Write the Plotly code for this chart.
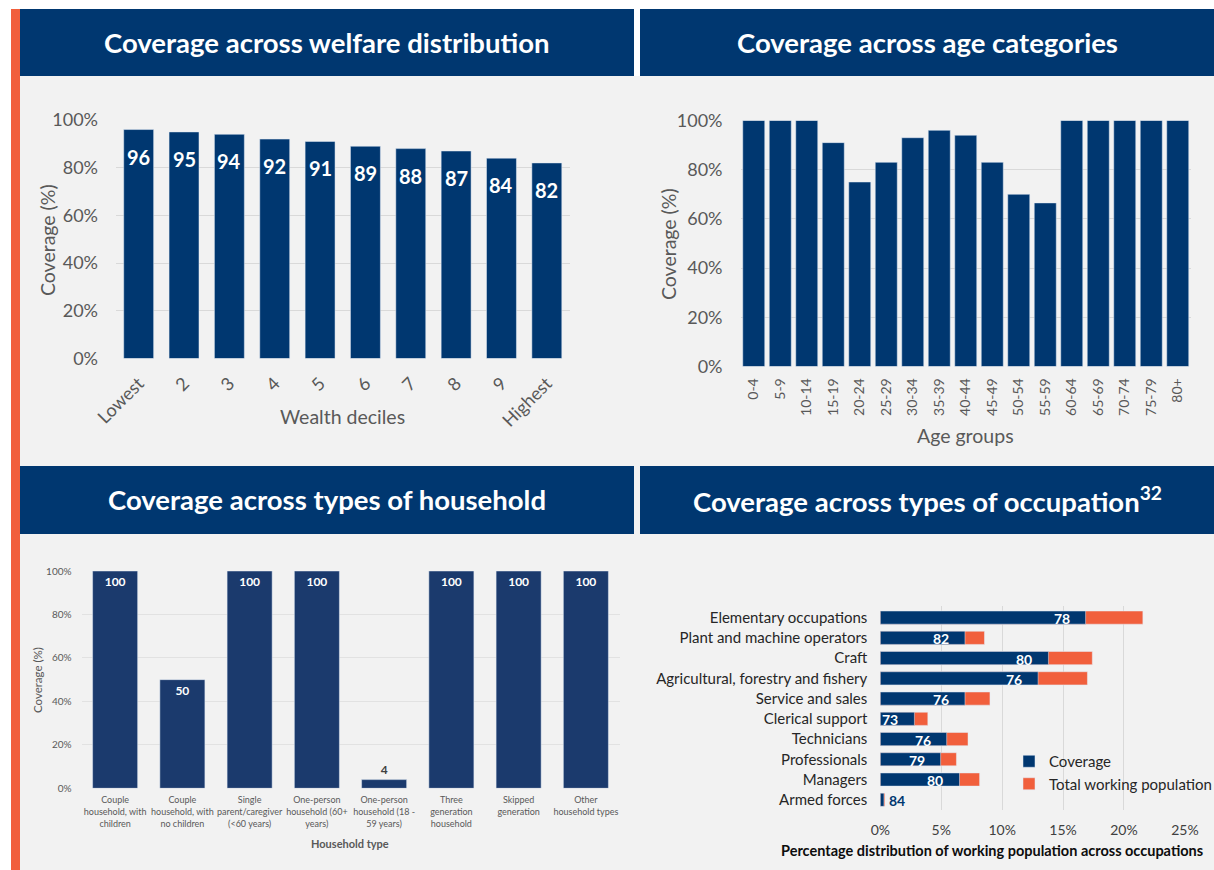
import plotly.graph_objects as go

W, H = 1214, 870

# --- data -------------------------------------------------------------
deciles = ["Lowest", "2", "3", "4", "5", "6", "7", "8", "9", "Highest"]
decile_cov = [96, 95, 94, 92, 91, 89, 88, 87, 84, 82]

age_groups = ["0-4", "5-9", "10-14", "15-19", "20-24", "25-29", "30-34", "35-39",
              "40-44", "45-49", "50-54", "55-59", "60-64", "65-69", "70-74",
              "75-79", "80+"]
age_cov = [100, 100, 100, 91, 75, 83, 93, 96, 94, 83, 70, 66.5, 100, 100, 100, 100, 100]

hh_types = [
    "Couple<br>household, with<br>children",
    "Couple<br>household, with<br>no children",
    "Single<br>parent/caregiver<br>(&lt;60 years)",
    "One-person<br>household (60+<br>years)",
    "One-person<br>household (18 -<br>59 years)",
    "Three<br>generation<br>household",
    "Skipped<br>generation",
    "Other<br>household types",
]
hh_cov = [100, 50, 100, 100, 4, 100, 100, 100]

occupations = ["Elementary occupations", "Plant and machine operators", "Craft",
               "Agricultural, forestry and fishery", "Service and sales",
               "Clerical support", "Technicians", "Professionals", "Managers",
               "Armed forces"]
occ_total = [21.55, 8.55, 17.4, 17.0, 9.0, 3.9, 7.2, 6.25, 8.15, 0.38]     # share of working pop.
occ_covered = [16.85, 6.95, 13.8, 12.95, 6.95, 2.8, 5.45, 4.95, 6.5, 0.3]  # covered part
occ_rate = [78, 82, 80, 76, 76, 73, 76, 79, 80, 84]                       # coverage label

pct_ticks = [0, 20, 40, 60, 80, 100]
occ_ticks = [0, 5, 10, 15, 20, 25]

# --- style ------------------------------------------------------------
NAVY = "#003770"
NAVY_BL = "#1b3a6d"
ORANGE = "#f15f3c"
PANEL = "#f2f2f2"
GRID = "#d9d9d9"
TICK = "#595959"
FONT = "Lato"


def px(x):
    return x / W


def py(y):
    return 1 - y / H


fig = go.Figure()

# welfare deciles
fig.add_trace(go.Bar(x=deciles, y=decile_cov, marker_color=NAVY, width=0.66,
                     xaxis="x", yaxis="y", showlegend=False))
# age groups
fig.add_trace(go.Bar(x=age_groups, y=age_cov, marker_color=NAVY, width=0.83,
                     xaxis="x2", yaxis="y2", showlegend=False))
# household types
fig.add_trace(go.Bar(
    x=hh_types, y=hh_cov, marker_color=NAVY_BL, width=0.67, xaxis="x3", yaxis="y3",
    showlegend=False, text=[str(v) for v in hh_cov],
    textposition=["inside" if v > 10 else "outside" for v in hh_cov],
    insidetextanchor="end", textangle=0, constraintext="none", cliponaxis=False,
    insidetextfont=dict(family=FONT, size=12, color="white", weight="bold"),
    outsidetextfont=dict(family=FONT, size=12, color="#404040", weight="bold"),
))
# occupations: total drawn first, covered part overlaid on top
fig.add_trace(go.Bar(x=occ_total, y=occupations, orientation="h", marker_color=ORANGE,
                     width=0.65, xaxis="x4", yaxis="y4", name="Total working population"))
fig.add_trace(go.Bar(x=occ_covered, y=occupations, orientation="h", marker_color=NAVY,
                     width=0.65, xaxis="x4", yaxis="y4", name="Coverage"))

annotations = []

# value labels on welfare chart (x by category index)
for i, v in enumerate(decile_cov):
    annotations.append(dict(x=i, y=v, xref="x", yref="y", xanchor="center",
                            yanchor="top", yshift=-13,
                            text=f"<b>{v}</b>", showarrow=False,
                            font=dict(family=FONT, size=20, color="white")))

# value labels on occupation chart
for i, (cov, rate) in enumerate(zip(occ_covered, occ_rate)):
    inside = cov > 1
    annotations.append(dict(x=cov, y=i, xref="x4", yref="y4",
                            xanchor="right" if inside else "left", yanchor="middle",
                            xshift=-14 if inside else 3, yshift=-1,
                            text=f"<b>{rate}</b>", showarrow=False,
                            font=dict(family=FONT, size=14,
                                      color="white" if inside else NAVY)))

# panel headers
headers = [
    ("Coverage across welfare distribution", 20, 634, 9, 76),
    ("Coverage across age categories", 640, 1214, 9, 76),
    ("Coverage across types of household", 20, 634, 466, 534),
    ("Coverage across types of occupation<sup>32</sup>", 640, 1214, 466, 534),
]
shapes = [
    dict(type="rect", xref="paper", yref="paper", x0=px(20), x1=1, y0=0, y1=py(76),
         fillcolor=PANEL, line_width=0, layer="below"),
    dict(type="rect", xref="paper", yref="paper", x0=px(11), x1=px(20), y0=0, y1=py(9),
         fillcolor=ORANGE, line_width=0, layer="below"),
]
for title, x0, x1, y0, y1 in headers:
    shapes.append(dict(type="rect", xref="paper", yref="paper", x0=px(x0), x1=px(x1),
                       y0=py(y1), y1=py(y0), fillcolor=NAVY, line_width=0, layer="below"))
    annotations.append(dict(x=px((x0 + x1) / 2), y=py((y0 + y1) / 2), xref="paper",
                            yref="paper", xanchor="center", yanchor="middle",
                            text=f"<b>{title}</b>", showarrow=False,
                            font=dict(family=FONT, size=27.5, color="white")))

# axis titles
axis_titles = [
    ("Coverage (%)", 47, 240, -90, 19.5, TICK, False),
    ("Wealth deciles", 342, 416, 0, 19.5, TICK, False),
    ("Coverage (%)", 669, 244, -90, 19.5, TICK, False),
    ("Age groups", 965, 435, 0, 19.5, TICK, False),
    ("Coverage (%)", 37, 680, -90, 11.5, TICK, False),
    ("Household type", 350, 843, 0, 11, TICK, True),
    ("Percentage distribution of working population across occupations", 992, 850, 0, 14.5,
     "#0d0d0d", True),
]
for text, x, y, ang, size, col, bold in axis_titles:
    annotations.append(dict(x=px(x), y=py(y), xref="paper", yref="paper",
                            xanchor="center", yanchor="middle",
                            text=f"<b>{text}</b>" if bold else text, textangle=ang,
                            showarrow=False, font=dict(family=FONT, size=size, color=col)))

pct_axis = dict(range=[0, 100], tickvals=pct_ticks, ticktext=[f"{v}%" for v in pct_ticks],
                showgrid=True, gridcolor=GRID, gridwidth=1, zeroline=False, showline=False,
                fixedrange=True, automargin=False)
cat_axis = dict(type="category", showgrid=False, zeroline=False, showline=False,
                fixedrange=True, automargin=False)

fig.update_layout(
    width=W, height=H,
    margin=dict(l=0, r=0, t=0, b=0, autoexpand=False),
    paper_bgcolor="white",
    plot_bgcolor="rgba(0,0,0,0)",
    barmode="overlay",
    font=dict(family=FONT, color=TICK),
    shapes=shapes,
    annotations=annotations,
    xaxis=dict(cat_axis, domain=[px(116), px(569.5)], anchor="y", tickangle=-45,
               tickfont=dict(size=18, color=TICK), ticklabelstandoff=10),
    yaxis=dict(pct_axis, domain=[py(358.5), py(120)], anchor="x",
               tickfont=dict(size=18, color=TICK), ticklabelstandoff=17),
    xaxis2=dict(cat_axis, domain=[px(740.5), px(1191)], anchor="y2", tickangle=-90,
                tickfont=dict(size=14, color=TICK), ticklabelstandoff=8),
    yaxis2=dict(pct_axis, domain=[py(366.5), py(120.5)], anchor="x2",
                tickfont=dict(size=18, color=TICK), ticklabelstandoff=17),
    xaxis3=dict(cat_axis, domain=[px(81.5), px(619.5)], anchor="y3", tickangle=0,
                tickfont=dict(size=9, color=TICK), ticklabelstandoff=5),
    yaxis3=dict(pct_axis, domain=[py(788.3), py(571)], anchor="x3", gridcolor="#e2e2e2",
                tickfont=dict(size=10, color=TICK), ticklabelstandoff=9),
    xaxis4=dict(range=[0, 25], tickvals=occ_ticks, ticktext=[f"{v}%" for v in occ_ticks],
                domain=[px(880.3), px(1184.9)], anchor="y4", showgrid=True, gridcolor=GRID,
                zeroline=False, showline=False, automargin=False,
                tickfont=dict(size=14, color="#404040"), ticklabelstandoff=10, fixedrange=True),
    yaxis4=dict(cat_axis, domain=[py(809.9), py(606.1)], anchor="x4", autorange="reversed",
                tickfont=dict(size=15, color="#262626"), ticklabelstandoff=12),
    legend=dict(x=px(1009), y=py(745), xanchor="left", yanchor="top",
                traceorder="reversed", bgcolor="rgba(0,0,0,0)",
                font=dict(family=FONT, size=15, color="#262626"),
                itemwidth=30, tracegroupgap=0),
    showlegend=True,
)

fig.write_html("out.html", config={"displayModeBar": False},
               post_script="document.body.style.margin='0';document.body.style.overflow='hidden';")
